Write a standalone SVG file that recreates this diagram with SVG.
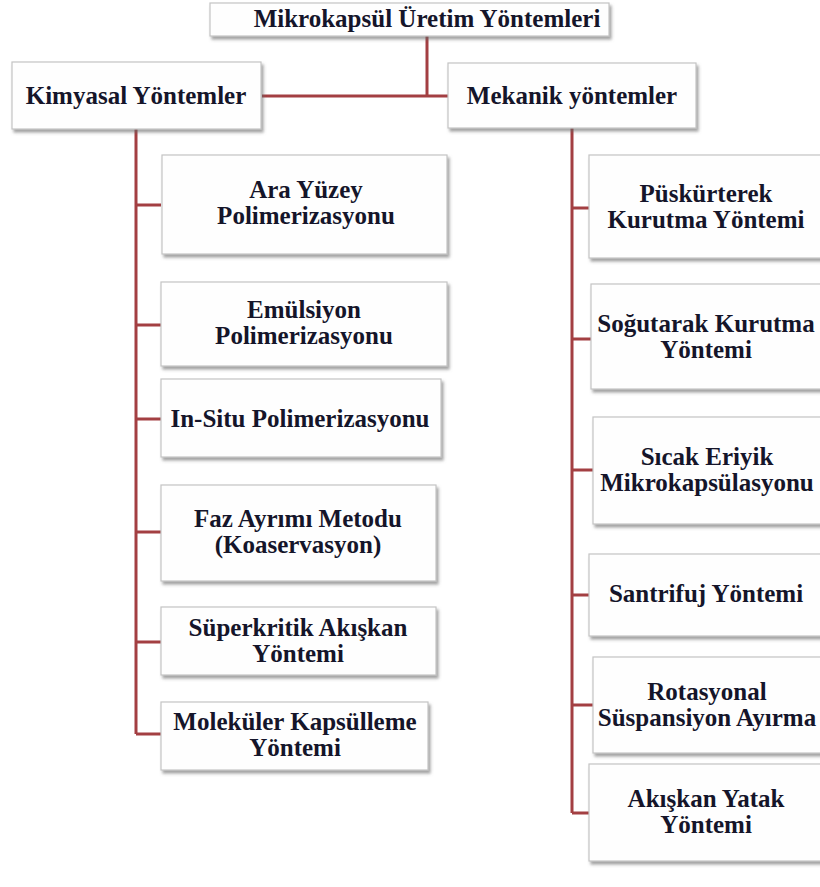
<svg xmlns="http://www.w3.org/2000/svg" width="820" height="887" viewBox="0 0 820 887">
<style>
.box{fill:#fefefe;stroke:#c4c4c4;stroke-width:1.2;filter:url(#sh)}
.t{font-family:"Liberation Serif","Times New Roman",serif;font-weight:bold;font-size:25px;fill:#15152a;text-anchor:middle}
.c{stroke:#a33f42;stroke-width:3;fill:none}
</style>
<defs>
<filter id="sh" x="-10%" y="-10%" width="120%" height="130%">
<feDropShadow dx="2" dy="3" stdDeviation="1.4" flood-color="#666" flood-opacity="0.6"/>
</filter>
</defs>
<rect width="820" height="887" fill="#ffffff"/>
<g id="connectors">
<path class="c" d="M427 36V96M262 96H448"/>
<path class="c" d="M136 129V734M136 205H161M136 325H161M136 419H161M136 532H161M136 642H161M136 734H161"/>
<path class="c" d="M572 128V813M572 208H589M572 339H591M572 470H593M572 595H589M572 705H593M572 813H589"/>
</g>
<g id="root"><rect class="box" x="210" y="3" width="399" height="33"/><text class="t" x="427" y="27">Mikrokapsül Üretim Yöntemleri</text></g>
<g id="kimyasal"><rect class="box" x="12" y="62" width="249" height="67"/><text class="t" x="136" y="104">Kimyasal Yöntemler</text></g>
<g id="mekanik"><rect class="box" x="448" y="63" width="248" height="65"/><text class="t" x="572" y="104">Mekanik yöntemler</text></g>
<g id="k1"><rect class="box" x="162" y="155" width="285" height="99"/><text class="t" x="306" y="198">Ara Yüzey</text><text class="t" x="306" y="224">Polimerizasyonu</text></g>
<g id="k2"><rect class="box" x="161" y="282" width="286" height="84"/><text class="t" x="304" y="318">Emülsiyon</text><text class="t" x="304" y="344">Polimerizasyonu</text></g>
<g id="k3"><rect class="box" x="161" y="379" width="280" height="78"/><text class="t" x="300" y="427">In-Situ Polimerizasyonu</text></g>
<g id="k4"><rect class="box" x="161" y="485" width="275" height="96"/><text class="t" x="298" y="527">Faz Ayrımı Metodu</text><text class="t" x="298" y="553">(Koaservasyon)</text></g>
<g id="k5"><rect class="box" x="161" y="607" width="275" height="68"/><text class="t" x="298" y="636">Süperkritik Akışkan</text><text class="t" x="298" y="662">Yöntemi</text></g>
<g id="k6"><rect class="box" x="161" y="702" width="267" height="68"/><text class="t" x="295" y="730">Moleküler Kapsülleme</text><text class="t" x="295" y="756">Yöntemi</text></g>
<g id="m1"><rect class="box" x="589" y="155" width="240" height="103"/><text class="t" x="706" y="202">Püskürterek</text><text class="t" x="706" y="228">Kurutma Yöntemi</text></g>
<g id="m2"><rect class="box" x="591" y="284" width="240" height="105"/><text class="t" x="706" y="332">Soğutarak Kurutma</text><text class="t" x="706" y="358">Yöntemi</text></g>
<g id="m3"><rect class="box" x="593" y="417" width="240" height="107"/><text class="t" x="707" y="465">Sıcak Eriyik</text><text class="t" x="707" y="491">Mikrokapsülasyonu</text></g>
<g id="m4"><rect class="box" x="589" y="554" width="240" height="82"/><text class="t" x="706" y="602">Santrifuj Yöntemi</text></g>
<g id="m5"><rect class="box" x="593" y="657" width="240" height="96"/><text class="t" x="707" y="700">Rotasyonal</text><text class="t" x="707" y="726">Süspansiyon Ayırma</text></g>
<g id="m6"><rect class="box" x="589" y="764" width="240" height="97"/><text class="t" x="706" y="807">Akışkan Yatak</text><text class="t" x="706" y="833">Yöntemi</text></g>
</svg>
